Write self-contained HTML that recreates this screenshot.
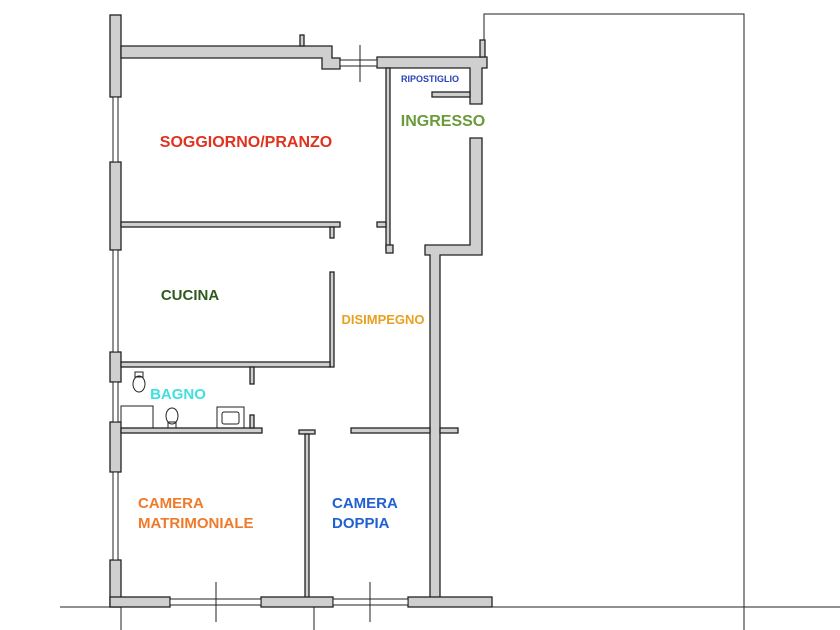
<!DOCTYPE html>
<html><head><meta charset="utf-8"><style>
body{margin:0;background:#fff;width:840px;height:630px;overflow:hidden}
svg{display:block}
text{font-family:"Liberation Sans",sans-serif;font-weight:bold}
</style></head><body>
<svg width="840" height="630" viewBox="0 0 840 630">
<g fill="#cfcfcf" stroke="#222" stroke-width="1.3">
<rect x="110" y="15" width="11" height="82"/>
<rect x="110" y="162" width="11" height="88"/>
<rect x="110" y="352" width="11" height="30"/>
<rect x="110" y="422" width="11" height="50"/>
<rect x="110" y="560" width="11" height="47"/>
<path d="M121 46 H332 V58 H340 V69 H322 V58 H121 Z"/>
<rect x="300" y="35" width="4" height="11"/>
<path d="M377 57 H487 V68 H482 V104 H470 V68 H377 Z"/>
<rect x="480" y="40" width="5" height="17"/>
<rect x="432" y="92" width="38" height="5"/>
<rect x="386" y="68" width="4" height="182"/>
<rect x="386" y="245" width="7" height="8"/>
<rect x="377" y="222" width="9" height="5"/>
<path d="M470 138 H482 V255 H440 V600 H430 V255 H425 V245 H470 Z"/>
<rect x="121" y="222" width="219" height="5"/>
<rect x="330" y="227" width="4" height="11"/>
<rect x="330" y="272" width="4" height="95"/>
<rect x="121" y="362" width="209" height="5"/>
<rect x="250" y="367" width="4" height="17"/>
<rect x="121" y="428" width="141" height="5"/>
<rect x="250" y="415" width="4" height="13"/>
<rect x="299" y="430" width="16" height="4"/>
<rect x="305" y="434" width="4" height="166"/>
<rect x="351" y="428" width="79" height="5"/>
<rect x="440" y="428" width="18" height="5"/>
<rect x="110" y="597" width="60" height="10"/>
<rect x="261" y="597" width="72" height="10"/>
<rect x="408" y="597" width="84" height="10"/>
</g>
<g fill="#fff" stroke="#222" stroke-width="1">
<rect x="113" y="97" width="5" height="65"/>
<rect x="113" y="250" width="5" height="102"/>
<rect x="113" y="382" width="5" height="40"/>
<rect x="113" y="472" width="5" height="88"/>
<rect x="340" y="60" width="37" height="6"/>
<rect x="170" y="599" width="91" height="6"/>
<rect x="333" y="599" width="75" height="6"/>
</g>
<g stroke="#222" stroke-width="1" fill="none">
<line x1="360" y1="45" x2="360" y2="82"/>
<line x1="216" y1="582" x2="216" y2="622"/>
<line x1="370" y1="582" x2="370" y2="622"/>
<line x1="121" y1="607" x2="121" y2="630"/>
<line x1="314" y1="607" x2="314" y2="630"/>
<line x1="60" y1="607" x2="110" y2="607"/>
<line x1="492" y1="607" x2="840" y2="607"/>
<polyline points="484,40 484,14 744,14 744,630" />
<ellipse cx="139" cy="384" rx="6" ry="8"/>
<rect x="135" y="372" width="8" height="5"/>
<rect x="121" y="406" width="32" height="22"/>
<ellipse cx="172" cy="416" rx="6" ry="8"/>
<rect x="168" y="422" width="8" height="6"/>
<rect x="217" y="407" width="27" height="21"/>
<rect x="222" y="412" width="17" height="12" rx="2"/>
</g>
<text x="246" y="147" fill="#e0321e" font-size="16" text-anchor="middle">SOGGIORNO/PRANZO</text>
<text x="443" y="126" fill="#6a9a3a" font-size="16" text-anchor="middle">INGRESSO</text>
<text x="430" y="82" fill="#2a44b8" font-size="9" text-anchor="middle">RIPOSTIGLIO</text>
<text x="190" y="300" fill="#2f5a1e" font-size="15" text-anchor="middle">CUCINA</text>
<text x="383" y="324" fill="#e8a020" font-size="13" text-anchor="middle">DISIMPEGNO</text>
<text x="178" y="399" fill="#40e0e0" font-size="15" text-anchor="middle">BAGNO</text>
<text x="138" y="508" fill="#f07a2a" font-size="15">CAMERA</text>
<text x="138" y="528" fill="#f07a2a" font-size="15">MATRIMONIALE</text>
<text x="332" y="508" fill="#2060d0" font-size="15">CAMERA</text>
<text x="332" y="528" fill="#2060d0" font-size="15">DOPPIA</text>
</svg>
</body></html>
